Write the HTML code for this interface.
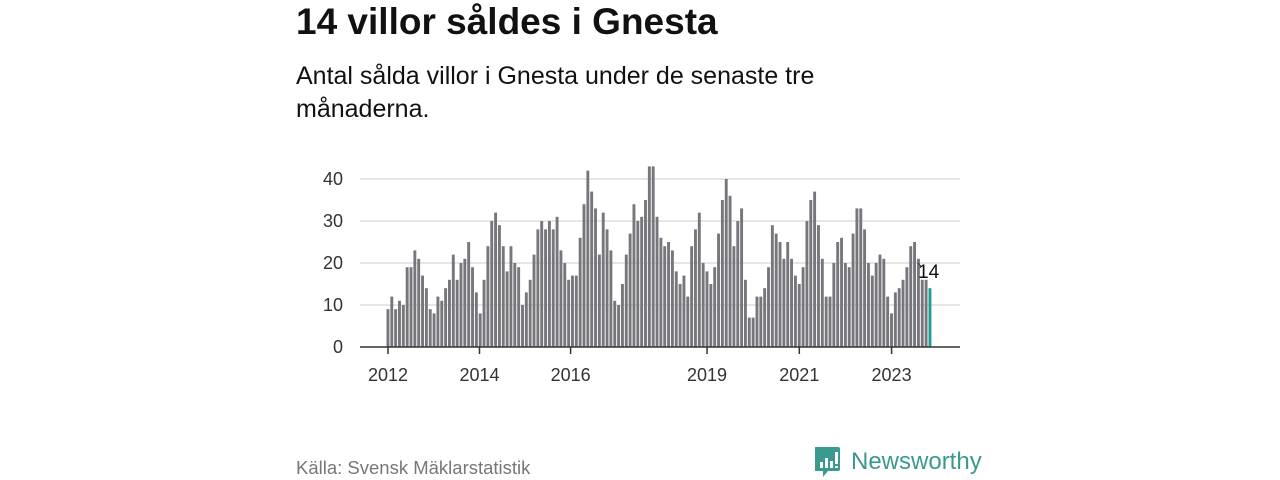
<!DOCTYPE html>
<html><head><meta charset="utf-8"><style>
body{margin:0;background:#fff;width:1280px;height:480px;overflow:hidden;font-family:"Liberation Sans",sans-serif;}
.t{position:absolute;left:296px;top:1px;font-size:37px;font-weight:bold;color:#111;}
.s{position:absolute;left:296px;top:60px;font-size:25px;line-height:33px;color:#111;width:570px;}
.src{position:absolute;left:296px;top:457px;font-size:18.5px;color:#777;}
.logo{position:absolute;left:815px;top:444px;}
</style></head><body>
<div class="t">14 villor såldes i Gnesta</div>
<div class="s">Antal sålda villor i Gnesta under de senaste tre månaderna.</div>
<div class="src">Källa: Svensk Mäklarstatistik</div>
<svg class="logo" width="175" height="36">
<path d="M1 3 h22 a2 2 0 0 1 2 2 v20 a2 2 0 0 1 -2 2 h-10 l-5 6 v-6 h-7 a2 2 0 0 1 -2 -2 v-20 a2 2 0 0 1 2 -2z" fill="#3a9a90"/>
<rect x="5" y="18" width="3" height="6" fill="#fff"/><rect x="10" y="14" width="3" height="10" fill="#fff"/><rect x="15" y="17" width="3" height="7" fill="#fff"/><rect x="20" y="8" width="3" height="12" fill="#fff"/><rect x="20" y="22" width="3" height="2" fill="#fff"/>
<text x="36" y="25" font-size="24" fill="#3a9a90" font-family="Liberation Sans, sans-serif">Newsworthy</text>
</svg>
<svg id="c" width="1280" height="480" style="position:absolute;left:0;top:0"></svg>
<script>
const values=[9,12,9,11,10,19,19,23,21,17,14,9,8,12,11,14,16,22,16,20,21,25,19,13,8,16,24,30,32,29,24,18,24,20,19,10,13,16,22,28,30,28,30,28,31,23,20,16,17,17,26,34,42,37,33,22,32,28,23,11,10,15,22,27,34,30,31,35,43,43,31,26,24,25,23,18,15,17,12,24,28,32,20,18,15,19,27,35,40,36,24,30,33,16,7,7,12,12,14,19,29,27,25,21,25,21,17,15,19,30,35,37,29,21,12,12,20,25,26,20,19,27,33,33,28,20,17,20,22,21,12,8,13,14,16,19,24,25,21,16,16,14];
const yTicks=[0,10,20,30,40];
const xTickLabels=["2012","2014","2016","2019","2021","2023"];
const xTickIndex=[0,23.8,47.5,83,107,131];
const ns="http://www.w3.org/2000/svg",svg=document.getElementById('c');
const x0=388,x1=930,y0=347,yk=4.2;
const n=values.length,step=(x1-x0)/(n-1);
const X=i=>x0+i*step, Y=v=>y0-v*yk;
function mk(t,a){const e=document.createElementNS(ns,t);for(const k in a)e.setAttribute(k,a[k]);svg.appendChild(e);return e;}
yTicks.forEach(v=>{
 if(v>0){const g=mk('line',{x1:360,x2:960,y1:Y(v),y2:Y(v),stroke:'#ddd','stroke-width':1.5});
 
 }
 const t=mk('text',{x:343,y:Y(v)+6,'text-anchor':'end','font-size':18,fill:'#333'});t.textContent=v;
 
 
});
values.forEach((v,i)=>{
 const r=mk('rect',{x:X(i)-1.5,y:Y(v),width:2.9,height:v*yk,fill:i===n-1?'#1b9e8f':'#77767c'});
 
 
});
const b=mk('line',{x1:360,x2:960,y1:y0,y2:y0,stroke:'#333','stroke-width':1.5});


xTickLabels.forEach((l,k)=>{
 const xx=X(xTickIndex[k]);
 const tk=mk('line',{x1:xx,x2:xx,y1:y0,y2:y0+7,stroke:'#333','stroke-width':1.5});
 
 
 const t=mk('text',{x:xx,y:381,'text-anchor':'middle','font-size':18,fill:'#333'});t.textContent=l;
 
 
});
const lv=values[n-1];
const ld=mk('line',{x1:X(n-1)-12,y1:Y(lv)-25,x2:X(n-1)-9,y2:Y(lv)-22,stroke:'#333','stroke-width':1});


const lt=mk('text',{x:X(n-1)-12,y:Y(lv)-10,'font-size':19,fill:'#111'});lt.textContent=lv;


</script>
</body></html>
